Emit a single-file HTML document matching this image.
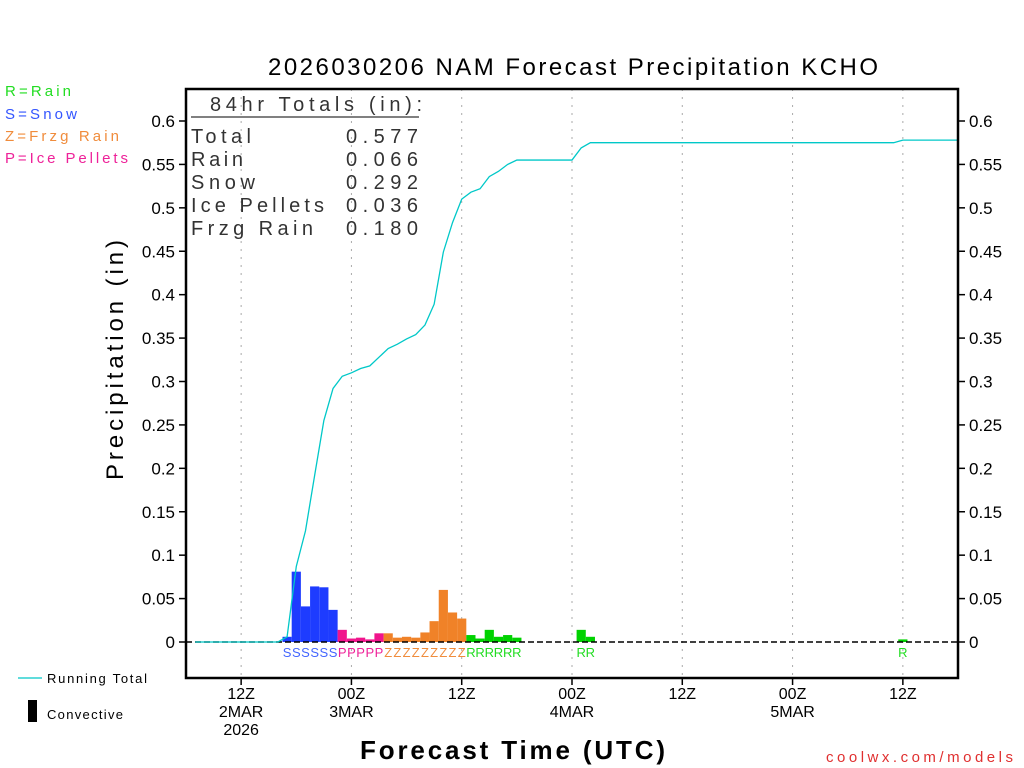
<!DOCTYPE html>
<html><head><meta charset="utf-8"><style>
body{margin:0;background:#fff}
svg{display:block;font-family:"Liberation Sans",sans-serif}
</style></head><body>
<svg id="c" width="1024" height="768">
<text x="268" y="75" font-size="24" textLength="610" lengthAdjust="spacing" fill="#000">2026030206 NAM Forecast Precipitation KCHO</text>
<g font-size="15">
<text x="5" y="96" fill="#22dd22" textLength="66">R=Rain</text>
<text x="5" y="119" fill="#3355ff" textLength="72">S=Snow</text>
<text x="5" y="141" fill="#f08c3c" textLength="114">Z=Frzg Rain</text>
<text x="5" y="163" fill="#ee2299" textLength="123">P=Ice Pellets</text>
</g>
<g font-size="13" fill="#000">
<line x1="18" y1="678" x2="42" y2="678" stroke="#00c8c8" stroke-width="1.2"/>
<text x="47" y="683" textLength="100">Running Total</text>
<rect x="28" y="700" width="9" height="22" fill="#000"/>
<text x="47" y="719" textLength="76">Convective</text>
</g>
<text transform="translate(123,480) rotate(-90)" font-size="24" textLength="240" lengthAdjust="spacing">Precipitation (in)</text>
<text x="360" y="759" font-size="26" textLength="305" font-weight="bold">Forecast Time (UTC)</text>
<text x="1013" y="762" font-size="15" text-anchor="end" fill="#e03030" textLength="187">coolwx.com/models</text>
<g id="grid"></g><g id="bars"></g><g id="axes"></g>
<g font-size="20" fill="#333">
<text x="210" y="111" textLength="212">84hr Totals (in):</text>
<line x1="191" y1="117" x2="419" y2="117" stroke="#000" stroke-width="1"/>
<text x="191" y="143" textLength="60">Total</text><text x="346" y="143" textLength="72">0.577</text>
<text x="191" y="166" textLength="52">Rain</text><text x="346" y="166" textLength="72">0.066</text>
<text x="191" y="189" textLength="64">Snow</text><text x="346" y="189" textLength="72">0.292</text>
<text x="191" y="212" textLength="133">Ice Pellets</text><text x="346" y="212" textLength="72">0.036</text>
<text x="191" y="235" textLength="122">Frzg Rain</text><text x="346" y="235" textLength="72">0.180</text>
</g>
</svg>
<script>
const hours=[11,12,13,14,15,16,17,18,19,20,21,22,23,24,25,26,27,28,29,30,31,32,33,34,35,36,43,44,78];
const amounts=[0.006,0.081,0.041,0.064,0.063,0.037,0.014,0.004,0.005,0.003,0.010,0.010,0.005,0.006,0.005,0.011,0.024,0.060,0.034,0.027,0.008,0.004,0.014,0.006,0.008,0.005,0.014,0.006,0.003];
const types=["S","S","S","S","S","S","P","P","P","P","P","Z","Z","Z","Z","Z","Z","Z","Z","Z","R","R","R","R","R","R","R","R","R"];
const yTicks=[0,0.05,0.1,0.15,0.2,0.25,0.3,0.35,0.4,0.45,0.5,0.55,0.6];
const yTickLabels=["0","0.05","0.1","0.15","0.2","0.25","0.3","0.35","0.4","0.45","0.5","0.55","0.6"];
const xTickHours=[6,18,30,42,54,66,78];
const xTickLabels=[["12Z","2MAR","2026"],["00Z","3MAR"],["12Z"],["00Z","4MAR"],["12Z"],["00Z","5MAR"],["12Z"]];
const colors={S:"#1e3cff",P:"#f0148c",Z:"#f08228",R:"#00d200"};
const lcolors={S:"#4466ff",P:"#ee2299",Z:"#f08c3c",R:"#22dd22"};
const L=186,R=958,T=89,B=678;
const X=h=>L+h*(R-L)/84;
const Y=v=>642-v*(642-121)/0.6;
const NS="http://www.w3.org/2000/svg";
function mk(tag,attrs,parent){const e=document.createElementNS(NS,tag);for(const k in attrs)e.setAttribute(k,attrs[k]);parent.appendChild(e);return e;}
const grid=document.getElementById('grid'),bars=document.getElementById('bars'),axes=document.getElementById('axes');
xTickHours.forEach((h,i)=>{
 const g=mk('line',{x1:X(h),x2:X(h),y1:T,y2:B,stroke:'#aaa','stroke-dasharray':'2,6'},grid);
 
 
 mk('line',{x1:X(h),x2:X(h),y1:B,y2:B+7,stroke:'#000','stroke-width':1.5},axes);
 xTickLabels[i].forEach((s,j)=>{const t=mk('text',{x:X(h),y:699+j*18,'font-size':16,'text-anchor':'middle'},axes);t.textContent=s;
 
 });
});
hours.forEach((h,i)=>{
 const w=(R-L)/84;
 const r=mk('rect',{x:X(h)-w/2,y:Y(amounts[i]),width:w,height:Y(0)-Y(amounts[i]),fill:colors[types[i]]},bars);
 
 
 const t=mk('text',{x:X(h),y:657,'font-size':13,'text-anchor':'middle',fill:lcolors[types[i]]},bars);
 t.textContent=types[i];
 
 
});
const z=mk('line',{x1:L,x2:R,y1:Y(0),y2:Y(0),stroke:'#000','stroke-dasharray':'6,3','stroke-width':1.5},bars);


let pts=[],cum=0;
for(let h=1;h<=84;h++){const i=hours.indexOf(h);if(i>=0)cum+=amounts[i];pts.push(X(h)+','+Y(cum));}
const pl=mk('polyline',{points:pts.join(' '),fill:'none',stroke:'#00c8c8','stroke-width':1.3},bars);


const fr=mk('rect',{x:L,y:T,width:R-L,height:B-T,fill:'none',stroke:'#000','stroke-width':2.5},axes);


yTicks.forEach((v,i)=>{
 mk('line',{x1:L-7,x2:L,y1:Y(v),y2:Y(v),stroke:'#000','stroke-width':1.5},axes);
 mk('line',{x1:R,x2:R+7,y1:Y(v),y2:Y(v),stroke:'#000','stroke-width':1.5},axes);
 const a=mk('text',{x:L-11,y:Y(v)+6,'font-size':17,'text-anchor':'end'},axes);a.textContent=yTickLabels[i];
 
 
 const b=mk('text',{x:R+11,y:Y(v)+6,'font-size':17},axes);b.textContent=yTickLabels[i];
 
 
});
</script>
</body></html>
